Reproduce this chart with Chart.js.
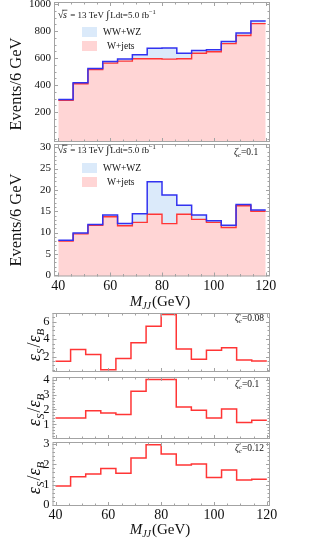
<!DOCTYPE html>
<html>
<head>
<meta charset="utf-8">
<script src="https://cdn.jsdelivr.net/npm/chart.js@4.4.0/dist/chart.umd.min.js"></script>
<style>
  body { margin: 0; background: #fff; }
  #wrap { position: relative; width: 312px; height: 543px; overflow: hidden; }
  canvas { position: absolute; left: 0; }
</style>
</head>
<body>
<div id="wrap">
  <canvas id="c1"></canvas>
  <canvas id="c2"></canvas>
  <canvas id="c3"></canvas>
  <canvas id="c4"></canvas>
  <canvas id="c5"></canvas>
</div>
<script>
// bin edges in M_JJ (GeV), 14 bins from 40 to 120
var binEdges = [40, 45.71, 51.43, 57.14, 62.86, 68.57, 74.29, 80, 85.71, 91.43, 97.14, 102.86, 108.57, 114.29, 120];

// panel 1 : 5 fb-1, no cut
var wjets1 = [287, 410, 515, 562, 577, 595, 595, 592, 595, 635, 647, 707, 767, 855];
var total1 = [292, 417, 522, 575, 592, 625, 672, 675, 635, 655, 662, 722, 785, 875];

// panel 2 : zeta_c = 0.1
var wjets2 = [8.0, 9.7, 11.7, 13.7, 11.6, 12.4, 14.3, 12.1, 14.3, 13.1, 12.4, 11.2, 16.3, 15.0];
var total2 = [8.2, 9.9, 11.9, 14.1, 12.1, 14.4, 21.9, 18.8, 16.4, 14.1, 12.8, 11.7, 16.6, 15.3];

// eps_S / eps_B
var ratio008 = [1.45, 2.82, 2.25, 0.5, 1.79, 3.58, 5.49, 6.82, 2.86, 1.68, 2.74, 3.01, 1.6, 1.49];
var ratio010 = [1.44, 1.44, 1.91, 1.77, 1.66, 3.22, 4.0, 4.0, 2.17, 1.95, 1.44, 2.04, 1.13, 1.29];
var ratio012 = [0.94, 1.39, 1.53, 1.79, 1.56, 2.31, 2.97, 2.51, 1.97, 2.02, 1.35, 1.72, 1.23, 1.27];

// tick labels
var xTicks = [40, 60, 80, 100, 120];
var yTicks1 = [200, 400, 600, 800, 1000];
var yTicks2 = [0, 5, 10, 15, 20, 25, 30];
var yTicksR1 = [2, 4, 6];
var yTicksR2 = [1, 2, 3, 4];
var yTicksR3 = [0, 1, 2, 3];

var SERIF = '"Liberation Serif", "DejaVu Serif", serif';
var RED = '#ff3535', BLUE = '#3232f0';
var PINK = '#ffd5d5', LBLUE = '#dbeafa';
var FRAME = '#a3a3a3';

function histPoints(vals) {
  var pts = [];
  for (var i = 0; i < vals.length; i++) pts.push({x: binEdges[i], y: vals[i]});
  pts.push({x: binEdges[vals.length], y: vals[vals.length - 1]});
  return pts;
}

// rich text : segs = [{t, s(size), it, dy, over}]
function rich(ctx, x, y, segs, align, rot) {
  ctx.save();
  ctx.translate(x, y);
  if (rot) ctx.rotate(rot);
  var w = 0;
  segs.forEach(function(s){
    ctx.font = (s.it ? 'italic ' : '') + s.s + 'px ' + SERIF;
    s.w = ctx.measureText(s.t).width;
    w += s.w + (s.gap || 0);
  });
  var cx = align == 'center' ? -w / 2 : 0;
  ctx.fillStyle = '#111';
  ctx.textBaseline = 'alphabetic';
  ctx.textAlign = 'left';
  segs.forEach(function(s){
    ctx.font = (s.it ? 'italic ' : '') + s.s + 'px ' + SERIF;
    ctx.fillText(s.t, cx, s.dy || 0);
    if (s.over) {
      ctx.strokeStyle = '#111'; ctx.lineWidth = 0.7;
      ctx.beginPath(); ctx.moveTo(cx - 1, -s.s * 0.78); ctx.lineTo(cx + s.w + 0.5, -s.s * 0.78); ctx.stroke();
    }
    cx += s.w + (s.gap || 0);
  });
  ctx.restore();
}

function drawLegend(ctx, yBlue, yRed) {
  ctx.fillStyle = LBLUE; ctx.fillRect(82, yBlue, 15, 10);
  ctx.fillStyle = PINK; ctx.fillRect(82, yRed, 15, 10);
  rich(ctx, 103, yBlue + 8, [{t: 'WW+WZ', s: 9.5}]);
  rich(ctx, 107, yRed + 8, [{t: 'W+jets', s: 9.5}]);
}

function lumiText(ctx, y) {
  rich(ctx, 58, y, [
    {t: '\u221A', s: 10, gap: -0.5}, {t: 's', s: 10, it: true, over: true, gap: 1},
    {t: ' = 13 TeV ', s: 9}, {t: '\u222B', s: 11, it: true, gap: 1},
    {t: 'Ldt=5.0 fb', s: 9}, {t: '\u22121', s: 6.5, dy: -4}
  ]);
}

function zetaText(ctx, x, y, val) {
  rich(ctx, x, y, [{t: '\u03B6', s: 10, it: true}, {t: 'c', s: 6.5, it: true, dy: 2}, {t: '=' + val, s: 9.5}]);
}

function epsTitle(ctx, y) {
  rich(ctx, 40, y, [
    {t: '\u03B5', s: 18, it: true}, {t: 'S', s: 11, it: true, dy: 4, gap: 1},
    {t: '/', s: 18}, {t: '\u03B5', s: 18, it: true}, {t: 'B', s: 11, it: true, dy: 4}
  ], 'center', -Math.PI / 2);
}

function mjjTitle(ctx, y) {
  rich(ctx, 160, y, [{t: 'M', s: 15, it: true}, {t: 'JJ', s: 10, it: true, dy: 3, gap: 1}, {t: '(GeV)', s: 15}], 'center');
}

// frame with inward ticks on all four sides, plus the panel's texts
function framePlugin(cfg) {
  return {
    id: 'frame_' + cfg.areaTop,
    afterDatasetsDraw: function(chart) {
      var ctx = chart.ctx, a = chart.chartArea;
      var xs = chart.scales.x, ys = chart.scales.y;
      ctx.save();
      ctx.strokeStyle = FRAME; ctx.lineWidth = 1;
      ctx.strokeRect(a.left + 0.5, a.top + 0.5, a.right - a.left - 1, a.bottom - a.top - 1);
      ctx.beginPath();
      for (var v = 40; v <= 120.001; v += 5) {
        var px = Math.round(xs.getPixelForValue(v)) + 0.5, len = (v % 20 == 0) ? 4 : 2.5;
        ctx.moveTo(px, a.bottom); ctx.lineTo(px, a.bottom - len);
        ctx.moveTo(px, a.top); ctx.lineTo(px, a.top + len);
      }
      var n0 = Math.ceil(ys.min / cfg.minor), n1 = Math.floor(ys.max / cfg.minor);
      for (var n = n0; n <= n1; n++) {
        var yv = Math.round(n * cfg.minor * 100) / 100;
        var py = Math.round(ys.getPixelForValue(yv)) + 0.5;
        var l2 = cfg.yTicks.indexOf(yv) >= 0 ? 4 : 2.5;
        ctx.moveTo(a.left, py); ctx.lineTo(a.left + l2, py);
        ctx.moveTo(a.right, py); ctx.lineTo(a.right - l2, py);
      }
      ctx.stroke();
      ctx.restore();
    },
    afterDraw: function(chart) {
      var ctx = chart.ctx;
      ctx.save();
      ctx.translate(0, -(cfg.areaTop - cfg.pad));
      cfg.decor(ctx);
      ctx.restore();
    }
  };
}

function makeChart(id, cfg) {
  var el = document.getElementById(id);
  var h = cfg.pad + cfg.areaH + cfg.xHeight;
  el.width = 312; el.height = h;
  el.style.top = (cfg.areaTop - cfg.pad) + 'px';
  el.style.width = '312px'; el.style.height = h + 'px';
  return new Chart(el, {
    type: 'line',
    data: { datasets: cfg.datasets },
    options: {
      animation: false, responsive: false, devicePixelRatio: 1,
      layout: { padding: { top: cfg.pad, right: 42, left: 0, bottom: 0 } },
      plugins: {
        legend: { display: false }, tooltip: { enabled: false },
        filler: { drawTime: 'beforeDatasetsDraw' }
      },
      elements: { point: { radius: 0 }, line: { tension: 0 } },
      scales: {
        x: {
          type: 'linear', min: cfg.xmin, max: cfg.xmax, display: cfg.xHeight > 0,
          afterBuildTicks: function(s){ s.ticks = xTicks.map(function(v){ return {value: v}; }); },
          afterFit: function(s){ s.height = cfg.xHeight; s.paddingLeft = 0; s.paddingRight = 0; },
          grid: { display: false, drawTicks: false }, border: { display: false },
          ticks: { font: { family: SERIF, size: 14 }, color: '#111', padding: 1, maxRotation: 0, autoSkip: false,
                   callback: function(v){ return String(v); } }
        },
        y: {
          type: 'linear', min: cfg.ymin, max: cfg.ymax,
          afterBuildTicks: function(s){ s.ticks = cfg.yTicks.map(function(v){ return {value: v}; }); },
          afterFit: function(s){ s.width = cfg.yWidth; s.paddingTop = 0; s.paddingBottom = 0; },
          grid: { display: false, drawTicks: false }, border: { display: false },
          ticks: { font: { family: SERIF, size: cfg.ySize }, color: '#111', padding: 3, autoSkip: false,
                   callback: function(v){ return String(v); } }
        }
      }
    },
    plugins: [framePlugin(cfg)]
  });
}

function stackSets(wj, tot) {
  return [
    { data: histPoints(wj), stepped: true, borderColor: RED, borderWidth: 1.4, backgroundColor: PINK, fill: 'start', order: 1 },
    { data: histPoints(tot), stepped: true, borderColor: BLUE, borderWidth: 1.5, backgroundColor: LBLUE, fill: '-1', order: 0 }
  ];
}

function ratioSet(r) {
  return [{ data: histPoints(r), stepped: true, borderColor: RED, borderWidth: 1.5, fill: false }];
}

makeChart('c1', {
  areaTop: 2, areaH: 140, pad: 2, xHeight: 0, yWidth: 54, ySize: 11,
  xmin: 38.34, xmax: 121.66, ymin: -22, ymax: 1015, yTicks: yTicks1, minor: 50,
  datasets: stackSets(wjets1, total1),
  decor: function(ctx){
    lumiText(ctx, 18);
    drawLegend(ctx, 27, 41);
    rich(ctx, 21, 84, [{t: 'Events/6 GeV', s: 16.5}], 'center', -Math.PI / 2);
  }
});

makeChart('c2', {
  areaTop: 144, areaH: 132.5, pad: 6, xHeight: 35.5, yWidth: 54, ySize: 11,
  xmin: 38.34, xmax: 121.66, ymin: -0.3, ymax: 30.77, yTicks: yTicks2, minor: 1,
  datasets: stackSets(wjets2, total2),
  decor: function(ctx){
    lumiText(ctx, 153);
    drawLegend(ctx, 163, 177);
    zetaText(ctx, 234, 155, '0.1');
    rich(ctx, 21, 220, [{t: 'Events/6 GeV', s: 16.5}], 'center', -Math.PI / 2);
    mjjTitle(ctx, 306);
  }
});

makeChart('c3', {
  areaTop: 313, areaH: 59, pad: 6, xHeight: 0, yWidth: 52.5, ySize: 12.5,
  xmin: 38.86, xmax: 121.2, ymin: 0.23, ymax: 7.0, yTicks: yTicksR1, minor: 0.5,
  datasets: ratioSet(ratio008),
  decor: function(ctx){
    zetaText(ctx, 235, 321, '0.08');
    epsTitle(ctx, 345);
  }
});

makeChart('c4', {
  areaTop: 377, areaH: 62, pad: 7, xHeight: 0, yWidth: 52.5, ySize: 12.5,
  xmin: 38.86, xmax: 121.2, ymin: 0.03, ymax: 4.17, yTicks: yTicksR2, minor: 0.2,
  datasets: ratioSet(ratio010),
  decor: function(ctx){
    zetaText(ctx, 235, 387, '0.1');
    epsTitle(ctx, 410);
  }
});

makeChart('c5', {
  areaTop: 442, areaH: 64, pad: 6, xHeight: 37, yWidth: 52.5, ySize: 12.5,
  xmin: 38.86, xmax: 121.2, ymin: -0.05, ymax: 3.1, yTicks: yTicksR3, minor: 0.2,
  datasets: ratioSet(ratio012),
  decor: function(ctx){
    zetaText(ctx, 235, 451, '0.12');
    epsTitle(ctx, 478);
    mjjTitle(ctx, 534);
  }
});
</script>
</body>
</html>
